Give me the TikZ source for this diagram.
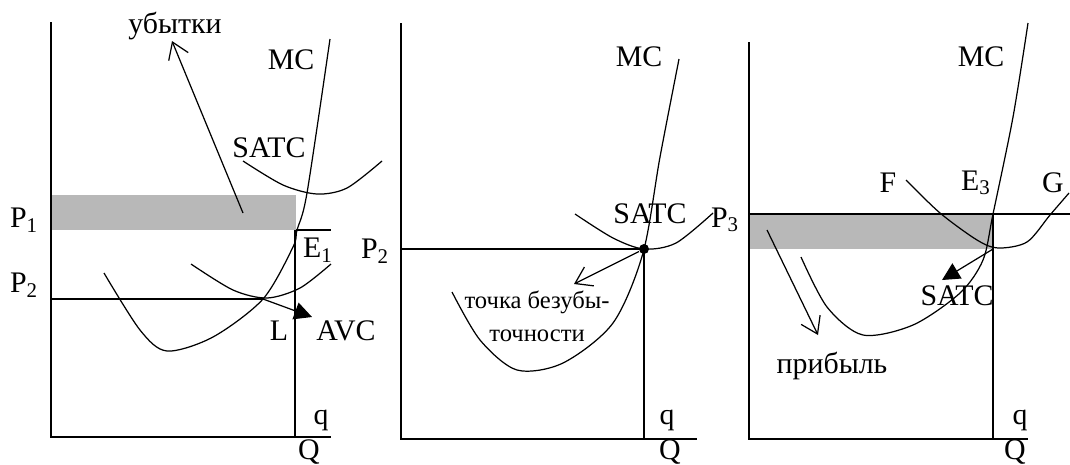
\documentclass[tikz,border=0pt]{standalone}
\usepackage{fontspec}
\setmainfont{Liberation Serif}
\usetikzlibrary{arrows.meta}

\begin{document}
\begin{tikzpicture}[
    x=0.02cm, y=-0.02cm,
    line width=0.7pt,
    every node/.style={inner sep=0pt, font=\fontsize{17}{20}\selectfont},
    note/.style={font=\fontsize{14}{18.7}\selectfont, align=center},
    band/.style={fill=black!28, draw=none},
    openhead/.style={-{Straight Barb[length=9pt,width=12pt]}},
    fullhead/.style={-{Triangle[length=10pt,width=10pt]}},
  ]
  \useasboundingbox (0,0) rectangle (1070,464);

  % panel 1: losses
  \fill[band] (51,195) rectangle (296,230);
  \draw (51,22) -- (51,437) -- (331,437);
  \draw (296,230) -- (331,230);
  \draw (295,230) -- (295,437);
  \draw (51,299) -- (263,299);
  \draw plot[smooth] coordinates {(104,273) (140,330) (167,351) (213,337) (263,299) (293,247) (297,230) (307,193) (330,39)};
  \draw plot[smooth] coordinates {(191,264) (233,290) (267,298) (300,288) (331,264)};
  \draw plot[smooth] coordinates {(243,161) (283,185) (317,194) (347,188) (382,161)};
  \node (loss) at (175,26) {убытки};
  \node (mc1) at (291,60) {MC};
  \node (satc1) at (269,148) {SATC};
  \node (p1) at (24,220) {P\textsubscript{1}};
  \node (p2) at (24,285) {P\textsubscript{2}};
  \node (e1) at (318,250) {E\textsubscript{1}};
  \node (l) at (279,331) {L};
  \node (avc) at (346,331) {AVC};
  \node (q1) at (321,420) {q};
  \node (qq1) at (309,452) {Q};
  \coordinate (lossfrom) at (243,213);
  \coordinate (lossto) at (172,41);
  \coordinate (lpt) at (263,299);
  \coordinate (avcto) at (312,317);
  \draw[openhead] (lossfrom) -- (lossto);
  \draw[fullhead] (lpt) -- (avcto);

  % panel 2: break-even
  \draw (401,23) -- (401,439) -- (697,439);
  \draw (401,249) -- (644,249) -- (644,439);
  \draw plot[smooth] coordinates {(452,292) (480,340) (517,370) (563,363) (613,323) (643,253) (660,157) (679,59)};
  \draw plot[smooth] coordinates {(575,214) (613,238) (644,249) (676,243) (713,213)};
  \node[circle, fill, minimum size=0.2cm] (be) at (644,249) {};
  \node (mc2) at (639,57) {MC};
  \node (satc2) at (650,214) {SATC};
  \node (p22) at (375,251) {P\textsubscript{2}};
  \node[note] (bep) at (537,316) {точка безубы-\\точности};
  \node (q2) at (667,420) {q};
  \node (qq2) at (670,452) {Q};
  \coordinate (beto) at (574,284);
  \draw[openhead] (be) -- (beto);

  % panel 3: profit
  \fill[band] (749,214) rectangle (993,249);
  \draw (749,42) -- (749,439) -- (1028,439);
  \draw (749,214) -- (1070,214);
  \draw (993,214) -- (993,439);
  \draw plot[smooth] coordinates {(801,257) (827,307) (863,335) (913,325) (960,293) (983,260) (993,214) (1013,117) (1028,23)};
  \draw plot[smooth] coordinates {(906,180) (940,213) (977,240) (998,248) (1027,242) (1050,215) (1069,193)};
  \node (mc3) at (981,57) {MC};
  \node (f) at (888,183) {F};
  \node (e3) at (976,183) {E\textsubscript{3}};
  \node (g) at (1053,183) {G};
  \node (p3) at (725,220) {P\textsubscript{3}};
  \node (satc3) at (957,296) {SATC};
  \node (gain) at (832,366) {прибыль};
  \node (q3) at (1020,420) {q};
  \node (qq3) at (1015,452) {Q};
  \coordinate (gainfrom) at (767,230);
  \coordinate (gainto) at (818,335);
  \coordinate (minpt) at (993,249);
  \coordinate (satcto) at (942,280);
  \draw[openhead] (gainfrom) -- (gainto);
  \draw[fullhead] (minpt) -- (satcto);
\end{tikzpicture}
\end{document}
